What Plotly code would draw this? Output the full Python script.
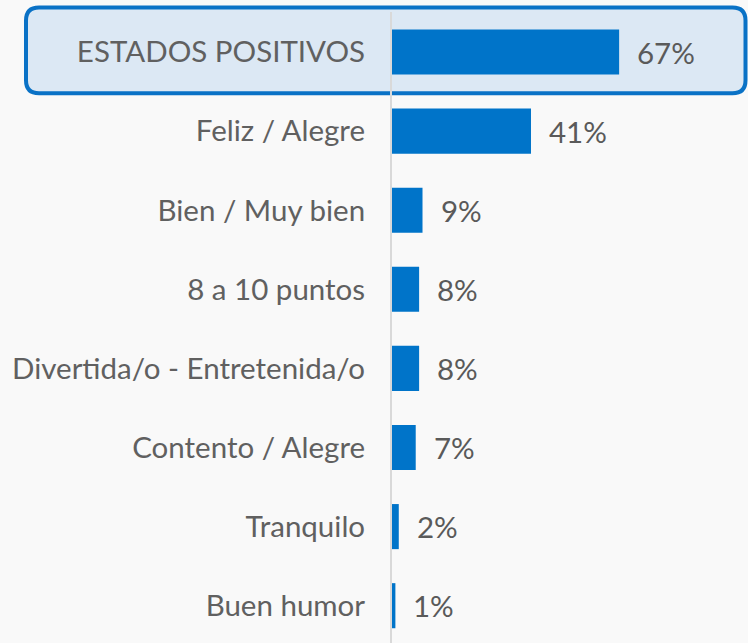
import plotly.graph_objects as go

categories = ["ESTADOS POSITIVOS", "Feliz / Alegre", "Bien / Muy bien", "8 a 10 puntos",
              "Divertida/o - Entretenida/o", "Contento / Alegre", "Tranquilo", "Buen humor"]
values = [67, 41, 9, 8, 8, 7, 2, 1]
value_labels = ["67%", "41%", "9%", "8%", "8%", "7%", "2%", "1%"]

W, H = 748, 643
ML, MT = 392, 12
plot_w = W - ML
plot_h = H - MT

BAR = "#0074c9"
BG = "#f9f9f9"
FS = 29.5
TXT = "#606060"

ROW = 79.1  # pixels per category row
top = -(52 - MT) / ROW
yrange = [top + plot_h / ROW, top]

fig = go.Figure(go.Bar(
    x=values, y=categories, orientation="h",
    marker=dict(color=BAR, line=dict(width=0)),
    width=0.57, hoverinfo="skip",
))

annotations = []
for c, v, t in zip(categories, values, value_labels):
    annotations.append(dict(x=v, y=c, xref="x", yref="y", text=t, showarrow=False,
                            xanchor="left", yanchor="middle", xshift=16,
                            font=dict(family="Lato", size=FS, color="#5a5a5a")))

# rounded highlight box (pixel geometry converted to paper coords)
def px(x):
    return (x - ML) / plot_w

def py(y):
    return (H - y) / plot_h

x0, x1, y0, y1, r = 26, 745.5, 7.5, 93.3, 13
rx, ry = r / plot_w, r / plot_h
X0, X1, Y0, Y1 = px(x0), px(x1), py(y1), py(y0)
path = (f"M {X0+rx},{Y1} L {X1-rx},{Y1} Q {X1},{Y1} {X1},{Y1-ry} "
        f"L {X1},{Y0+ry} Q {X1},{Y0} {X1-rx},{Y0} L {X0+rx},{Y0} "
        f"Q {X0},{Y0} {X0},{Y0+ry} L {X0},{Y1-ry} Q {X0},{Y1} {X0+rx},{Y1} Z")

fig.update_layout(
    width=W, height=H,
    margin=dict(l=ML, r=0, t=MT, b=0, pad=0),
    paper_bgcolor=BG, plot_bgcolor="rgba(0,0,0,0)",
    showlegend=False, bargap=0.43,
    font=dict(family="Lato", size=FS, color=TXT),
    xaxis=dict(range=[0, plot_w / 3.39], visible=False, fixedrange=True),
    yaxis=dict(range=yrange, showgrid=False, zeroline=False,
               showline=True, linecolor="#d9d9d9", linewidth=2,
               ticks="outside", ticklen=19, tickcolor="rgba(0,0,0,0)",
               tickfont=dict(family="Lato", size=FS, color=TXT), fixedrange=True),
    shapes=[dict(type="path", path=path, xref="paper", yref="paper",
                 fillcolor="#dce8f4", line=dict(color="#0a72c6", width=4), layer="below")],
    annotations=annotations,
)

fig.write_html("out.html", config={"displayModeBar": False},
               post_script="document.body.style.margin='0';document.body.style.padding='0';")
